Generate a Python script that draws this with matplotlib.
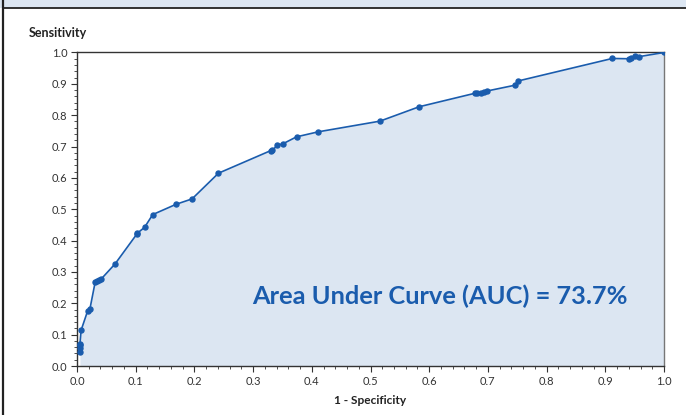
import matplotlib
matplotlib.use("Agg")
import matplotlib.pyplot as plt
from matplotlib.ticker import MultipleLocator
from matplotlib.lines import Line2D
from matplotlib.patches import Rectangle

plt.rcParams['font.family'] = ['Lato', 'DejaVu Sans']

fpr = [0.005, 0.005, 0.005, 0.005, 0.007, 0.018, 0.022, 0.031, 0.034, 0.038, 0.041,
       0.065, 0.102, 0.103, 0.115, 0.129, 0.169, 0.196, 0.241,
       0.330, 0.333, 0.341, 0.351, 0.374, 0.411, 0.516, 0.583,
       0.678, 0.681, 0.688, 0.694, 0.698, 0.747, 0.751,
       0.912, 0.941, 0.944, 0.950, 0.958, 1.0]
tpr = [0.044, 0.058, 0.067, 0.070, 0.114, 0.175, 0.182, 0.268, 0.271, 0.274, 0.277,
       0.326, 0.421, 0.424, 0.442, 0.483, 0.516, 0.533, 0.615,
       0.687, 0.688, 0.704, 0.709, 0.731, 0.747, 0.781, 0.827,
       0.870, 0.870, 0.870, 0.875, 0.877, 0.896, 0.909,
       0.981, 0.980, 0.982, 0.989, 0.987, 1.0]
xticks = [0.0, 0.1, 0.2, 0.3, 0.4, 0.5, 0.6, 0.7, 0.8, 0.9, 1.0]
yticks = [0.0, 0.1, 0.2, 0.3, 0.4, 0.5, 0.6, 0.7, 0.8, 0.9, 1.0]
auc_text = "Area Under Curve (AUC) = 73.7%"

blue = '#1a5cad'
fill = '#dce6f2'

fig = plt.figure(figsize=(6.86, 4.15), dpi=100)
# top band and frame lines
fig.patches.append(Rectangle((0, 1 - 8/415), 1, 8/415, transform=fig.transFigure,
                             facecolor=fill, edgecolor='none', zorder=0))
fig.lines.append(Line2D([3.5/686, 1], [1 - 8.5/415, 1 - 8.5/415], transform=fig.transFigure,
                        color='#222222', lw=1.3))
fig.lines.append(Line2D([3.5/686, 3.5/686], [0, 1], transform=fig.transFigure,
                        color='#222222', lw=1.6))

ax = fig.add_axes([77/686, (415-366)/415, 587/686, 313.5/415])
ax.fill_between(fpr, tpr, 0, color=fill, lw=0, zorder=1)
ax.plot(fpr, tpr, color=blue, lw=1.2, marker='o', ms=3.6, zorder=3)
ax.set_xlim(0, 1)
ax.set_ylim(0, 1)
ax.set_xticks(xticks)
ax.set_yticks(yticks)
ax.set_xticklabels([f"{v:.1f}" for v in xticks])
ax.set_yticklabels([f"{v:.1f}" for v in yticks])
ax.xaxis.set_minor_locator(MultipleLocator(0.02))
ax.yaxis.set_minor_locator(MultipleLocator(0.02))
ax.tick_params(which='major', direction='out', length=4, width=0.8, color='#333333',
               labelsize=8, labelcolor='#333333', pad=3)
ax.tick_params(which='minor', direction='out', length=2, width=0.6, color='#333333')
for s in ax.spines.values():
    s.set_color('#333333')
    s.set_linewidth(1.0)
ax.spines['right'].set_color('#777777')

ax.set_xlabel("1 - Specificity", fontsize=8.6, fontweight='bold', color='#222222', labelpad=6)
fig.text(29/686, 1 - 33/415, "Sensitivity", fontsize=9, fontweight='bold', color='#222222',
         ha='left', va='center')
ax.text(0.618, 0.222, auc_text, transform=ax.transAxes, fontsize=18.3, fontweight='bold',
        color=blue, ha='center', va='center')

fig.savefig("out.png", dpi=100, facecolor='white')
